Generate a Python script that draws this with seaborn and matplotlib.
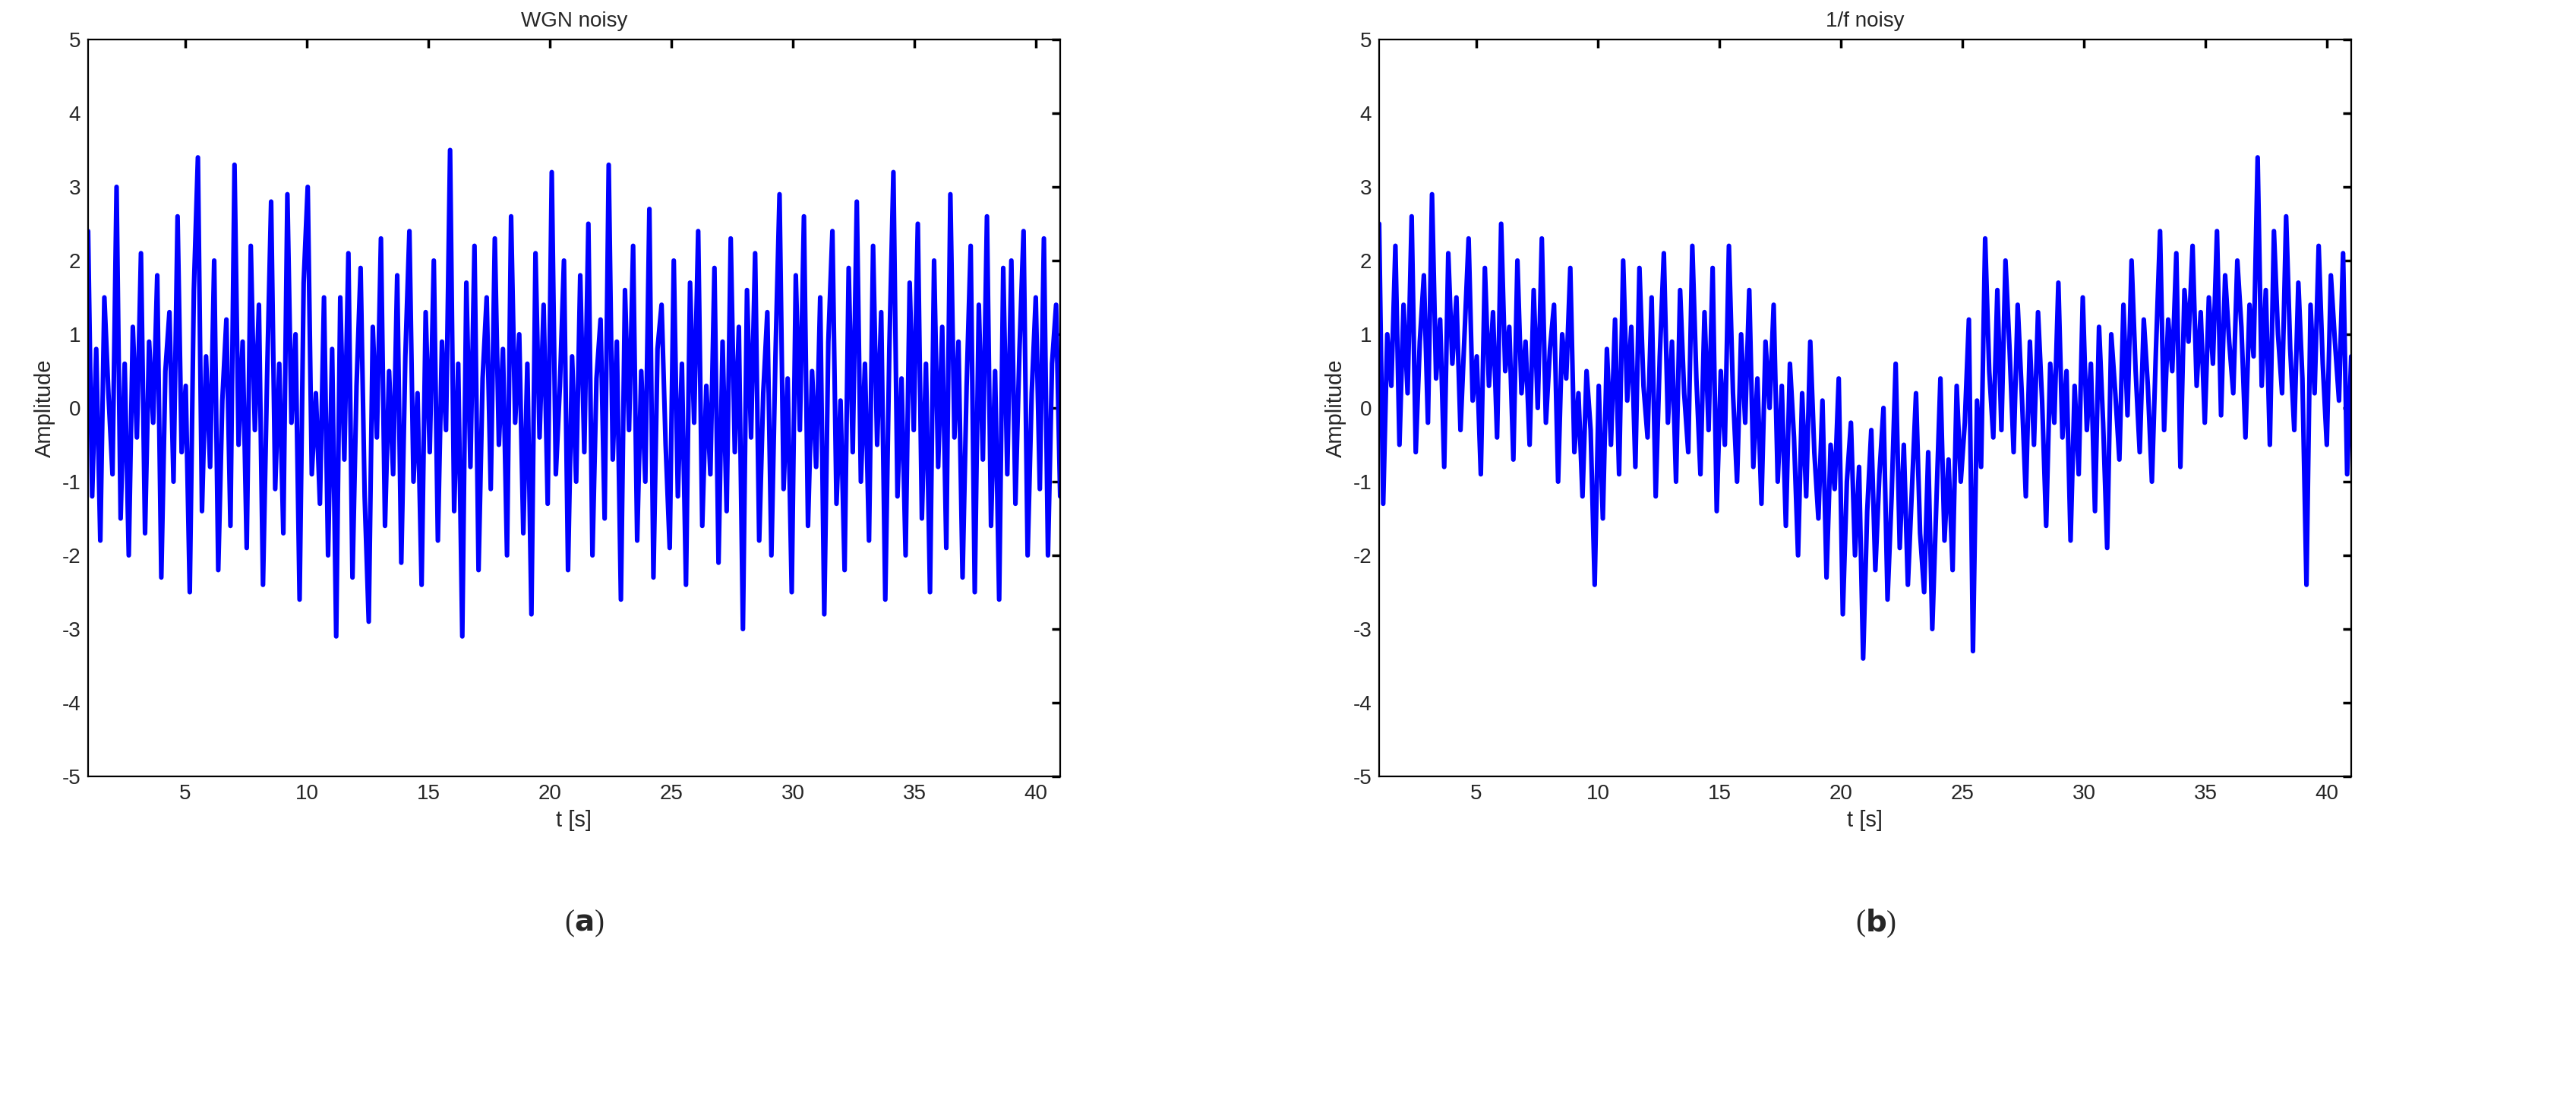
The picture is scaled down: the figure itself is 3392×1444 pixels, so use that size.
import numpy as np
import matplotlib
matplotlib.use("Agg")
import matplotlib.pyplot as plt
import seaborn as sns

# values, 6 samples per second from t=1 to t=41
wgn_values = [
    2.4, -1.2, 0.8, -1.8, 1.5, 0.2, -0.9, 3.0, -1.5, 0.6, -2.0, 1.1,
    -0.4, 2.1, -1.7, 0.9, -0.2, 1.8, -2.3, 0.5, 1.3, -1.0, 2.6, -0.6,
    0.3, -2.5, 1.6, 3.4, -1.4, 0.7, -0.8, 2.0, -2.2, 0.1, 1.2, -1.6,
    3.3, -0.5, 0.9, -1.9, 2.2, -0.3, 1.4, -2.4, 0.4, 2.8, -1.1, 0.6,
    -1.7, 2.9, -0.2, 1.0, -2.6, 1.7, 3.0, -0.9, 0.2, -1.3, 1.5, -2.0,
    0.8, -3.1, 1.5, -0.7, 2.1, -2.3, 0.3, 1.9, -1.2, -2.9, 1.1, -0.4,
    2.3, -1.6, 0.5, -0.9, 1.8, -2.1, 0.7, 2.4, -1.0, 0.2, -2.4, 1.3,
    -0.6, 2.0, -1.8, 0.9, -0.3, 3.5, -1.4, 0.6, -3.1, 1.7, -0.8, 2.2,
    -2.2, 0.4, 1.5, -1.1, 2.3, -0.5, 0.8, -2.0, 2.6, -0.2, 1.0, -1.7,
    0.6, -2.8, 2.1, -0.4, 1.4, -1.3, 3.2, -0.9, 0.3, 2.0, -2.2, 0.7,
    -1.0, 1.8, -0.6, 2.5, -2.0, 0.4, 1.2, -1.5, 3.3, -0.7, 0.9, -2.6,
    1.6, -0.3, 2.2, -1.8, 0.5, -1.0, 2.7, -2.3, 0.8, 1.4, -0.5, -1.9,
    2.0, -1.2, 0.6, -2.4, 1.7, -0.2, 2.4, -1.6, 0.3, -0.9, 1.9, -2.1,
    0.9, -1.4, 2.3, -0.6, 1.1, -3.0, 1.6, -0.4, 2.1, -1.8, 0.2, 1.3,
    -2.0, 0.7, 2.9, -1.1, 0.4, -2.5, 1.8, -0.3, 2.6, -1.6, 0.5, -0.8,
    1.5, -2.8, 0.9, 2.4, -1.3, 0.1, -2.2, 1.9, -0.6, 2.8, -1.0, 0.6,
    -1.8, 2.2, -0.5, 1.3, -2.6, 0.8, 3.2, -1.2, 0.4, -2.0, 1.7, -0.3,
    2.5, -1.5, 0.6, -2.5, 2.0, -0.8, 1.1, -1.9, 2.9, -0.4, 0.9, -2.3,
    0.3, 2.2, -2.5, 1.4, -0.7, 2.6, -1.6, 0.5, -2.6, 1.9, -0.9, 2.0,
    -1.3, 0.8, 2.4, -2.0, 0.2, 1.5, -1.1, 2.3, -2.0, 0.6, 1.4, -1.2,
]

pink_values = [
    2.5, -1.3, 1.0, 0.3, 2.2, -0.5, 1.4, 0.2, 2.6, -0.6, 0.9, 1.8,
    -0.2, 2.9, 0.4, 1.2, -0.8, 2.1, 0.6, 1.5, -0.3, 1.0, 2.3, 0.1,
    0.7, -0.9, 1.9, 0.3, 1.3, -0.4, 2.5, 0.5, 1.1, -0.7, 2.0, 0.2,
    0.9, -0.5, 1.6, 0.0, 2.3, -0.2, 0.8, 1.4, -1.0, 1.0, 0.4, 1.9,
    -0.6, 0.2, -1.2, 0.5, -0.3, -2.4, 0.3, -1.5, 0.8, -0.5, 1.2, -0.9,
    2.0, 0.1, 1.1, -0.8, 1.9, 0.3, -0.4, 1.5, -1.2, 0.7, 2.1, -0.2,
    0.9, -1.0, 1.6, 0.2, -0.6, 2.2, 0.4, -0.9, 1.3, -0.3, 1.9, -1.4,
    0.5, -0.5, 2.2, 0.2, -1.0, 1.0, -0.2, 1.6, -0.8, 0.4, -1.3, 0.9,
    0.0, 1.4, -1.0, 0.3, -1.6, 0.6, -0.4, -2.0, 0.2, -1.2, 0.9, -0.6,
    -1.5, 0.1, -2.3, -0.5, -1.1, 0.4, -2.8, -1.0, -0.2, -2.0, -0.8, -3.4,
    -1.4, -0.3, -2.2, -0.9, 0.0, -2.6, -1.2, 0.6, -1.9, -0.5, -2.4, -1.1,
    0.2, -1.7, -2.5, -0.6, -3.0, -1.3, 0.4, -1.8, -0.7, -2.2, 0.3, -1.0,
    -0.2, 1.2, -3.3, 0.1, -0.8, 2.3, 0.5, -0.4, 1.6, -0.3, 2.0, 0.8,
    -0.6, 1.4, 0.2, -1.2, 0.9, -0.5, 1.3, 0.1, -1.6, 0.6, -0.2, 1.7,
    -0.4, 0.5, -1.8, 0.3, -0.9, 1.5, -0.3, 0.6, -1.4, 1.1, -0.2, -1.9,
    1.0, 0.2, -0.7, 1.4, -0.1, 2.0, 0.5, -0.6, 1.2, 0.3, -1.0, 0.8,
    2.4, -0.3, 1.2, 0.5, 2.1, -0.8, 1.6, 0.9, 2.2, 0.3, 1.3, -0.2,
    1.5, 0.6, 2.4, -0.1, 1.8, 0.9, 0.2, 2.0, 1.1, -0.4, 1.4, 0.7,
    3.4, 0.3, 1.6, -0.5, 2.4, 1.0, 0.2, 2.6, 0.8, -0.3, 1.7, 0.4,
    -2.4, 1.4, 0.2, 2.2, 0.6, -0.5, 1.8, 0.9, 0.1, 2.1, -0.9, 0.7,
]

t_values = np.linspace(1, 41, len(wgn_values))
titles = ["WGN noisy", "1/f noisy"]
panel_labels = ["a", "b"]
x_ticks = [5, 10, 15, 20, 25, 30, 35, 40]
y_ticks = [-5, -4, -3, -2, -1, 0, 1, 2, 3, 4, 5]

sns.set_theme(style="white")
plt.rcParams["font.family"] = ["Liberation Sans", "DejaVu Sans"]
plt.rcParams["xtick.direction"] = "in"
plt.rcParams["ytick.direction"] = "in"
plt.rcParams["axes.unicode_minus"] = False

fig = plt.figure(figsize=(16.96, 7.22), dpi=200)
ax_bottom = 1 - 1022 / 1444
ax_height = (1022 - 52) / 1444
axes = [fig.add_axes([116 / 3392, ax_bottom, 1280 / 3392, ax_height]),
        fig.add_axes([1816 / 3392, ax_bottom, 1280 / 3392, ax_height])]

for ax, values, title, lab in zip(axes, [wgn_values, pink_values], titles, panel_labels):
    sns.lineplot(x=t_values, y=values, ax=ax, color="#0000ff", linewidth=2.2)
    ax.set_xlim(1, 41)
    ax.set_ylim(-5, 5)
    ax.set_xticks(x_ticks)
    ax.set_yticks(y_ticks)
    ax.tick_params(labelsize=10, length=4, color="black", top=True, right=True)
    for s in ax.spines.values():
        s.set_color("black")
        s.set_linewidth(0.8)
    ax.set_title(title, fontsize=10, pad=6)
    ax.set_xlabel("t [s]", fontsize=10.5, labelpad=3)
    ax.set_ylabel("Amplitude", fontsize=10.5, labelpad=3)
    ax.text(0.5, -0.2, "(", transform=ax.transAxes, ha="right", va="center", fontsize=14,
            family="Liberation Serif")
    ax.text(0.5, -0.2, r"$\mathbf{%s}$)" % lab, transform=ax.transAxes, ha="left",
            va="center", fontsize=14, family="Liberation Serif")

fig.savefig("out.png", dpi=200)
